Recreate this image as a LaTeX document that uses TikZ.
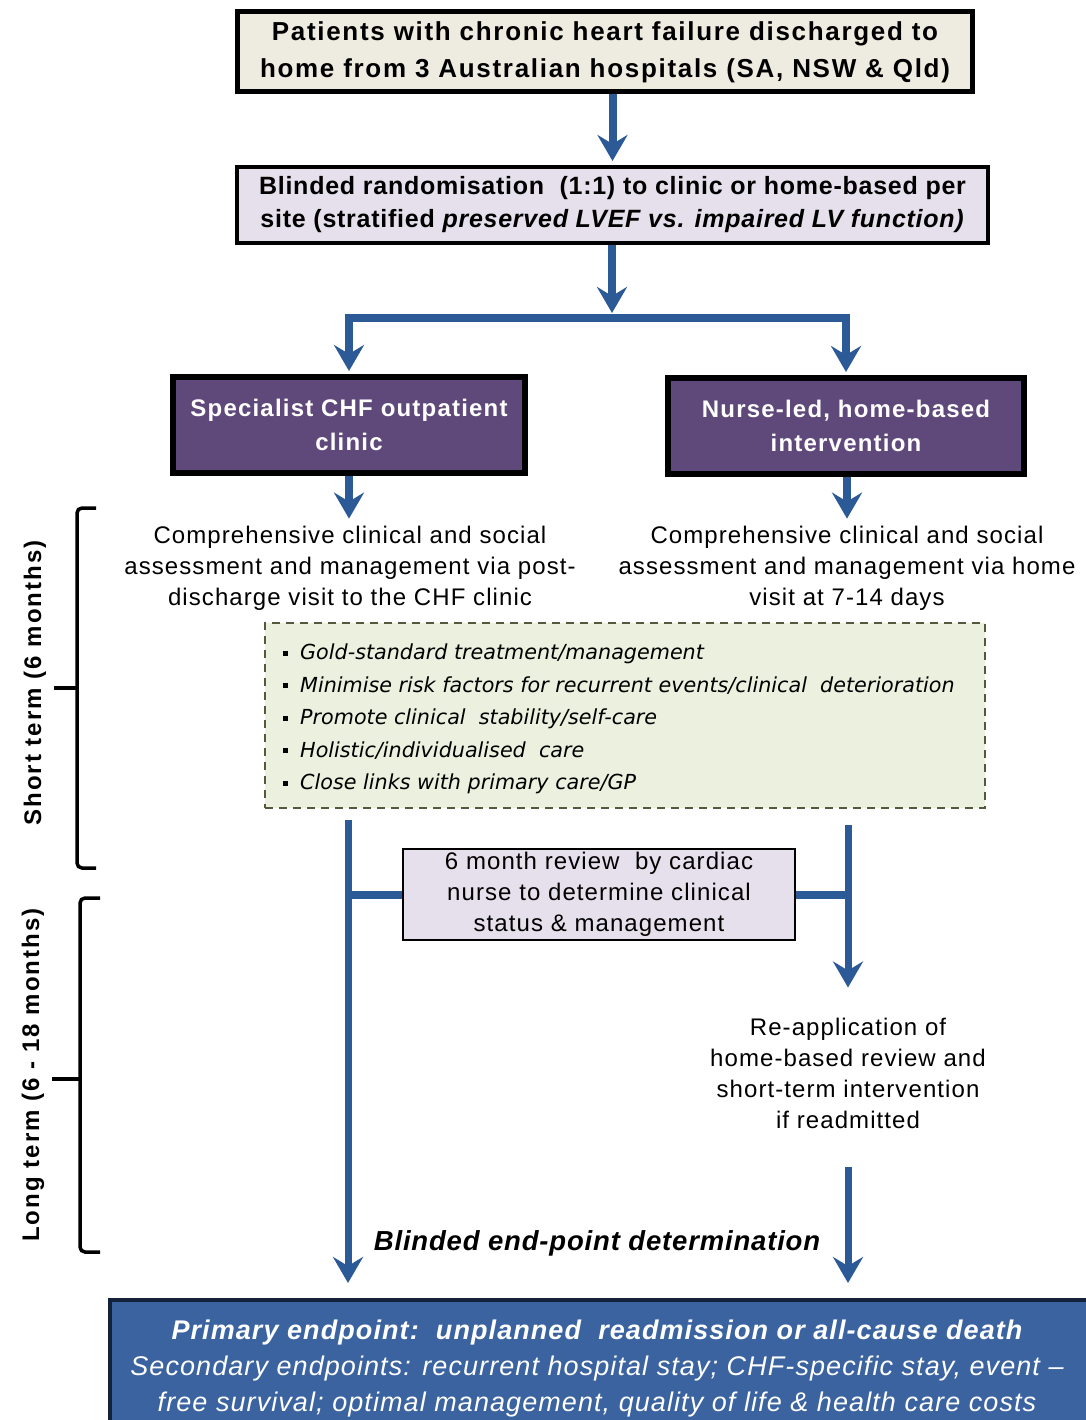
\documentclass[tikz,border=0pt]{standalone}
\usepackage{fontspec}
\setmainfont{Liberation Sans}
\newfontfamily\spacedfont[LetterSpace=4.5]{Liberation Sans}
\newfontfamily\titlefont[LetterSpace=6.5]{Liberation Sans}
\newfontfamily\randfont[LetterSpace=3]{Liberation Sans}
\newfontfamily\purpfont[LetterSpace=5]{Liberation Sans}
\newfontfamily\bulletfont{DejaVu Sans}
\newfontfamily\botfont[LetterSpace=4]{Liberation Sans}
\newfontfamily\blindfont[LetterSpace=3]{Liberation Sans}
\newfontfamily\sidefont[LetterSpace=8.5]{Liberation Sans}
\usetikzlibrary{arrows.meta,calc}
\definecolor{arrblue}{HTML}{2C5A96}
\definecolor{tanfill}{HTML}{EEECE1}
\definecolor{lavfill}{HTML}{E5E0EC}
\definecolor{purp}{HTML}{5F497A}
\definecolor{greenfill}{HTML}{EBF1DE}
\definecolor{dashcol}{HTML}{55583A}
\definecolor{botblue}{HTML}{3A63A0}
\definecolor{botedge}{HTML}{14213A}
\newcommand{\bul}{\raisebox{4pt}{\rule{5pt}{5pt}}\hspace{12pt}}
\begin{document}
\begin{tikzpicture}[x=1pt,y=-1pt,
  box/.style={draw=black,align=center,inner sep=0pt},
  arr/.style={draw=arrblue,line width=8pt,-{Stealth[length=26pt,width=30pt,inset=9pt]}},
  bar/.style={draw=arrblue,line width=8pt},
  plain/.style={align=center,inner sep=0pt,font=\spacedfont\fontsize{24}{31}\selectfont},
  brace/.style={draw=black,line width=3.5pt,rounded corners=5pt},
  side/.style={rotate=90,font=\sidefont\bfseries\fontsize{24}{28}\selectfont}]
\useasboundingbox[fill=white] (0,0) rectangle (1085,1420);

\node[box,fill=tanfill,line width=5pt,minimum width=735pt,minimum height=80pt,
  font=\titlefont\bfseries\fontsize{26}{37}\selectfont] (top) at (605,52)
  {Patients with chronic heart failure discharged to\\home from 3 Australian hospitals (SA, NSW \& Qld)};

\node[box,fill=lavfill,line width=4pt,minimum width=751pt,minimum height=76pt,
  font=\randfont\bfseries\fontsize{25}{33}\selectfont] (rand) at (612.5,205)
  {Blinded randomisation\ \ (1:1) to clinic or home-based per\\site (stratified \textit{preserved LVEF vs. impaired LV function)}};

\coordinate (split) at (612,318);
\node[box,fill=purp,text=white,line width=6pt,minimum width=352pt,minimum height=96pt,
  font=\purpfont\bfseries\fontsize{24}{34}\selectfont] (clinic) at (349,425)
  {Specialist CHF outpatient\\clinic};
\node[box,fill=purp,text=white,line width=6pt,minimum width=356pt,minimum height=96pt,
  font=\purpfont\bfseries\fontsize{24}{34}\selectfont] (home) at (846,426)
  {Nurse-led, home-based\\intervention};

\draw[arr] (top.south -| rand.north) -- ([yshift=4pt]rand.north);
\draw[arr,shorten >=5pt] (rand.south -| split) -- (split);
\draw[arr,line join=miter] (split) -| ([yshift=3pt]clinic.north);
\draw[arr,line join=miter] (split) -| ([yshift=3pt]home.north);

\node[plain] (lt) at (350,568)
  {Comprehensive clinical and social\\assessment and management via post-\\discharge visit to the CHF clinic};
\node[plain] (rt) at (847,568)
  {Comprehensive clinical and social\\assessment and management via home\\visit at 7-14 days};
\draw[arr] (clinic.south) -- ($(clinic.south |- lt.north)+(0,-7)$);
\draw[arr] (home.south -| rt.north) -- ($(rt.north)+(0,-7)$);

\node[draw=dashcol,fill=greenfill,line width=1.5pt,dash pattern=on 8pt off 6pt,
  minimum width=720pt,minimum height=185pt,inner sep=0pt] (gbox) at (625,715.5) {};
\node[anchor=west,align=left,inner sep=0pt,font=\bulletfont\itshape\fontsize{20.7}{32.4}\selectfont] (bullets) at (283,719)
  {\bul Gold-standard treatment/management\\
   \bul Minimise risk factors for recurrent events/clinical\ \ deterioration\\
   \bul Promote clinical\ \ stability/self-care\\
   \bul Holistic/individualised\ \ care\\
   \bul Close links with primary care/GP};

\node[box,fill=lavfill,line width=1.5pt,minimum width=392pt,minimum height=91pt,
  font=\spacedfont\fontsize{24}{31}\selectfont] (rev) at (599,894.5)
  {6 month review\ \ by cardiac\\nurse to determine clinical\\status \& management};

\node[plain] (reap) at (848,1073)
  {Re-application of\\home-based review and\\short-term intervention\\if readmitted};

\node[inner sep=0pt,font=\blindfont\bfseries\itshape\fontsize{27.5}{30}\selectfont] (blind) at (597,1243)
  {Blinded end-point determination};

\node[draw=botedge,fill=botblue,line width=4pt,minimum width=985pt,minimum height=130pt,inner sep=0pt] (bot) at (602.5,1365) {};
\node[align=center,inner sep=0pt,text=white,font=\botfont\itshape\fontsize{27}{36}\selectfont] (bottext) at (597,1369)
  {\textbf{Primary endpoint:\ \ unplanned\ \ readmission or all-cause death}\\
   Secondary endpoints: recurrent hospital stay; CHF-specific stay, event –\\
   free survival; optimal management, quality of life \& health care costs};

\coordinate (l1) at (348,820);
\coordinate (r1) at (848,825);
\draw[arr,line width=7pt] (l1) -- ([yshift=15pt]bot.north -| l1);
\draw[arr,line width=7pt] (r1) -- ([yshift=30pt]reap.north -| r1);
\draw[arr,line width=7pt] ([yshift=-38pt]reap.south -| r1) -- ([yshift=15pt]bot.north -| r1);
\draw[bar] (rev.west) -- (rev.west -| l1);
\draw[bar] (rev.east) -- (rev.east -| r1);

\draw[brace] (96,508) -- (77,508) -- (77,868) -- (96,868);
\draw[draw=black,line width=3.5pt] (54,688) -- (77,688);
\draw[brace] (100,898) -- (80,898) -- (80,1252) -- (100,1252);
\draw[draw=black,line width=3.5pt] (52,1079) -- (80,1079);
\node[side] (stl) at (35,683) {Short term (6 months)};
\node[side] (ltl) at (33,1075) {Long term (6 - 18 months)};
\end{tikzpicture}
\end{document}
